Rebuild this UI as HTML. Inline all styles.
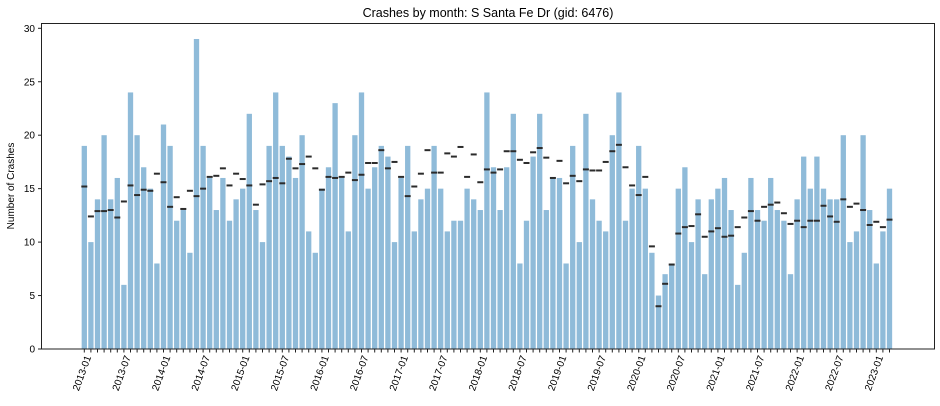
<!DOCTYPE html>
<html><head><meta charset="utf-8"><style>
html,body{margin:0;padding:0;background:#fff;}
svg{display:block;font-family:"Liberation Sans","DejaVu Sans",sans-serif;}
</style></head><body>
<svg id="chart" width="940" height="406" viewBox="0 0 940 406">
<text x="488" y="17" font-size="12.5" text-anchor="middle" fill="#000">Crashes by month: S Santa Fe Dr (gid: 6476)</text>
<text transform="translate(14,186) rotate(-90)" font-size="10" text-anchor="middle" fill="#000">Number of Crashes</text>
<g id="bars"></g>
<g id="markers"></g>
<g id="yaxis"></g>
<g id="xaxis"></g>
<rect x="41.5" y="23.5" width="893" height="325.5" fill="none" stroke="#222" stroke-width="1"/>
</svg>
<script>
const startYear = 2013;
const counts = [19,10,14,20,14,16,6,24,20,17,15,8,
21,19,12,13,9,29,19,16,13,16,12,14,
15,22,13,10,19,24,19,18,16,20,11,9,
15,17,23,16,11,20,24,15,17,19,18,10,
16,19,11,14,15,19,15,11,12,12,15,14,
13,24,
17,13,17,22,8,12,18,22,13,16,16,8,19,10,22,14,12,11,20,24,12,15,19,15,9,5,7,8,15,17,10,14,7,14,
15,16,13,6,9,16,13,12,16,13,12,7,14,18,15,18,15,14,14,20,10,11,20,13,8,11,15];
const expected = [15.2,12.4,12.9,12.9,13.0,12.3,13.8,15.3,14.4,14.9,14.8,16.4,15.6,13.3,14.2,13.1,14.8,14.3,15.0,16.1,16.2,16.9,15.3,16.4,15.9,15.3,13.5,15.4,15.7,16.0,15.5,17.8,
16.9,17.3,18.0,16.9,14.9,16.1,16.0,16.1,16.5,15.8,16.3,17.4,17.4,18.6,16.9,17.5,16.1,14.3,15.2,16.4,18.6,16.5,16.5,18.3,18.0,18.9,16.1,18.2,15.6,16.8,16.5,16.8,
18.5,18.5,17.7,17.4,18.4,18.8,17.9,16.0,17.6,15.5,16.2,15.7,16.8,16.7,16.7,17.5,18.5,19.1,17.0,15.3,14.4,16.1,9.6,4.0,6.1,7.9,10.8,11.4,11.5,12.6,10.5,11.0,
11.3,10.5,10.6,11.4,12.3,12.9,12.0,13.3,13.5,13.7,12.7,11.7,12.0,11.4,12.0,12.0,13.4,12.4,11.9,14.0,13.3,13.6,13.0,11.6,11.9,11.4,12.1];
const yTicks = [0,5,10,15,20,25,30];

const NS = "http://www.w3.org/2000/svg";
const x = i => 84.3 + i * 6.6;
const y = v => 349 - v * 10.69;
const bw = 5.3;
function mk(tag, attrs, parent){const e=document.createElementNS(NS,tag);for(const k in attrs)e.setAttribute(k,attrs[k]);parent.appendChild(e);return e;}
function label(i){const yr=startYear+Math.floor(i/12);const m=i%12+1;return yr+"-"+(m<10?"0":"")+m;}

const gb=document.getElementById('bars'), gm=document.getElementById('markers');
counts.forEach((v,i)=>{
  const r=mk('rect',{x:x(i)-bw/2,y:y(v),width:bw,height:y(0)-y(v),fill:'#8fbbd9'},gb);
  
  
});
expected.forEach((v,i)=>{
  const r=mk('rect',{x:x(i)-3,y:y(v)-1,width:6,height:2,fill:'#2b2b2b'},gm);
  
  
});
const gy=document.getElementById('yaxis');
yTicks.forEach(t=>{
  const l=mk('line',{x1:38,x2:41.5,y1:y(t),y2:y(t),stroke:'#222','stroke-width':1},gy);
  
  
  const tx=mk('text',{x:35,y:y(t)+3.5,'font-size':10,'text-anchor':'end',fill:'#000'},gy);
  tx.textContent=t;
  
  
});
const gx=document.getElementById('xaxis');
counts.forEach((v,i)=>{
  const l=mk('line',{x1:x(i),x2:x(i),y1:349,y2:352.5,stroke:'#222','stroke-width':1},gx);
  
  
  if(i%6===0){
    const tx=mk('text',{transform:'translate('+(x(i)+7)+',357) rotate(-70)','font-size':10,'text-anchor':'end',fill:'#000'},gx);
    tx.textContent=label(i);
    
    
  }
});
</script>
</body></html>
